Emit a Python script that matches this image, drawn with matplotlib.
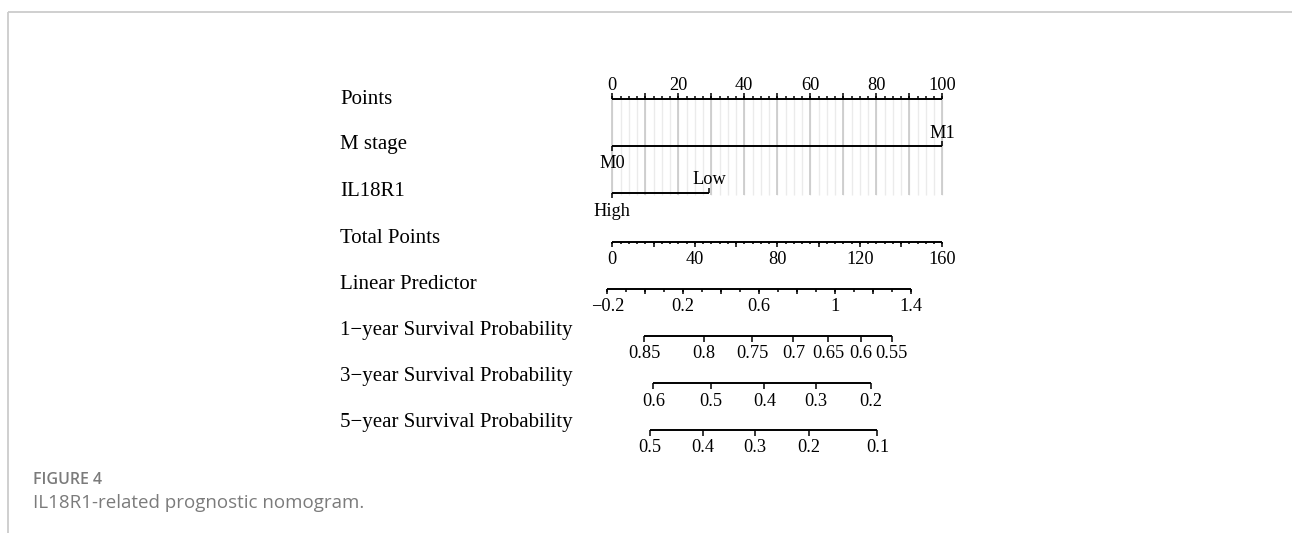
import matplotlib.pyplot as plt
import numpy as np

# ---- data ----
row_names = ["Points", "M stage", "IL18R1", "Total Points", "Linear Predictor",
             "1\u2212year Survival Probability", "3\u2212year Survival Probability",
             "5\u2212year Survival Probability"]

points_labels = [0, 20, 40, 60, 80, 100]

m_stage_levels = ["M0", "M1"]
m_stage_points = [0, 100]

il18r1_levels = ["High", "Low"]
il18r1_points = [0, 29.4]

total_max = 160
total_labels = [0, 40, 80, 120, 160]

lp_labels = [-0.2, 0.2, 0.6, 1, 1.4]
lp_ends = [-0.2, 1.4]            # linear predictor at the ends of its scale
lp_ends_total = [-2.4, 144.7]    # ... and the total points they sit at

surv1_labels = ["0.85", "0.8", "0.75", "0.7", "0.65", "0.6", "0.55"]
surv1_total = [15.4, 44.6, 67.9, 87.8, 104.7, 120.4, 135.5]
surv3_labels = ["0.6", "0.5", "0.4", "0.3", "0.2"]
surv3_total = [19.9, 48.0, 73.7, 98.8, 125.4]
surv5_labels = ["0.5", "0.4", "0.3", "0.2", "0.1"]
surv5_total = [18.3, 43.8, 69.3, 95.2, 128.5]

# ---- layout ----
W, H = 1292, 533
x0_px, unit_px = 612.3, 3.3          # pixel of 0 points, pixels per point
row_y = [99, 146, 193, 241.5, 288.5, 336, 383.3, 430]
name_y = [99, 144.5, 191.5, 238.5, 284.5, 330, 376, 422]
serif = "Liberation Serif"
lab_fs = 15
tick_fs = 13.2
lw = 1.4


def px(xp):
    return (xp - x0_px) / unit_px


def tp2x(tp):
    return np.asarray(tp, dtype=float) * 100.0 / total_max


def fmt(v):
    s = ("%g" % v)
    return s.replace("-", "\u2212")


fig = plt.figure(figsize=(W / 100, H / 100), dpi=100)
ax = fig.add_axes([0, 0, 1, 1])
ax.set_xlim(px(0), px(W))
ax.set_ylim(H, 0)
ax.axis("off")


def hline(y, a, b):
    ax.plot([a, b], [y, y], color="black", lw=lw, solid_capstyle="butt")


def ticks(xs, y, length, up):
    ax.vlines(xs, y, y - length if up else y + length, color="black", lw=1.1)


def labels_above(xs, y, texts):
    for x, t in zip(xs, texts):
        ax.text(x, y - 8.5, t, ha="center", va="baseline", fontsize=tick_fs, family=serif)


def labels_below(xs, y, texts):
    for x, t in zip(xs, texts):
        ax.text(x, y + 22.5, t, ha="center", va="baseline", fontsize=tick_fs, family=serif)


# row names
for y, name in zip(name_y, row_names):
    ax.text(px(340), y, name, ha="left", va="center", fontsize=lab_fs, family=serif)

# grid behind the points rows
grid_minor = np.arange(0, 100.1, 2.5)
grid_major = np.arange(0, 100.1, 10)
ax.vlines(grid_minor, row_y[0], 195, color="#ebebeb", lw=1.0, zorder=0)
ax.vlines(grid_major, row_y[0], 195, color="#c9c9c9", lw=1.2, zorder=0)

# Points
y = row_y[0]
hline(y, 0, 100)
ticks(np.arange(0, 100.1, 2.5), y, 3, True)
ticks(np.arange(0, 100.1, 10), y, 6, True)
labels_above(points_labels, y, [str(v) for v in points_labels])

# M stage
y = row_y[1]
hline(y, m_stage_points[0], m_stage_points[1])
ticks([m_stage_points[0]], y, 5, False)
ticks([m_stage_points[1]], y, 5, True)
labels_below([m_stage_points[0]], y, [m_stage_levels[0]])
labels_above([m_stage_points[1]], y, [m_stage_levels[1]])

# IL18R1
y = row_y[2]
hline(y, il18r1_points[0], il18r1_points[1])
ticks([il18r1_points[0]], y, 5, False)
ticks([il18r1_points[1]], y, 5, True)
labels_below([il18r1_points[0]], y, [il18r1_levels[0]])
labels_above([il18r1_points[1]], y, [il18r1_levels[1]])

# Total Points
y = row_y[3]
hline(y, 0, tp2x(total_max))
ticks(tp2x(np.arange(0, total_max + 0.1, 4)), y, 2.8, False)
ticks(tp2x(np.arange(0, total_max + 0.1, 20)), y, 5.5, False)
labels_below(tp2x(total_labels), y, [str(v) for v in total_labels])

# Linear Predictor
y = row_y[4]
slope = (lp_ends_total[1] - lp_ends_total[0]) / (lp_ends[1] - lp_ends[0])


def lp2x(lp):
    return tp2x(lp_ends_total[0] + (np.asarray(lp) - lp_ends[0]) * slope)


hline(y, lp2x(lp_ends[0]), lp2x(lp_ends[1]))
ticks(lp2x(np.arange(-0.2, 1.41, 0.1)), y, 3, False)
ticks(lp2x(np.arange(-0.2, 1.41, 0.2)), y, 5.5, False)
labels_below(lp2x(lp_labels), y, [fmt(v) for v in lp_labels])

# survival scales
for y, labs, tot in [(row_y[5], surv1_labels, surv1_total),
                     (row_y[6], surv3_labels, surv3_total),
                     (row_y[7], surv5_labels, surv5_total)]:
    xs = tp2x(tot)
    hline(y, xs.min(), xs.max())
    ticks(xs, y, 5.5, False)
    labels_below(xs, y, labs)

# frame of the figure panel
ax.plot([px(8), px(W)], [12, 12], color="#cccccc", lw=1.3, solid_capstyle="butt")
ax.plot([px(8), px(8)], [12, H], color="#cccccc", lw=1.3, solid_capstyle="butt")

# caption
fig.text(33 / W, 1 - 480 / H, "FIGURE 4", ha="left", va="center", fontsize=11.5,
         family="Open Sans", fontweight="semibold", color="#7b7b7b")
fig.text(33 / W, 1 - 503 / H, "IL18R1-related prognostic nomogram.", ha="left",
         va="center", fontsize=13.5, family="Open Sans", color="#7b7b7b")

fig.savefig("out.png", dpi=100)
